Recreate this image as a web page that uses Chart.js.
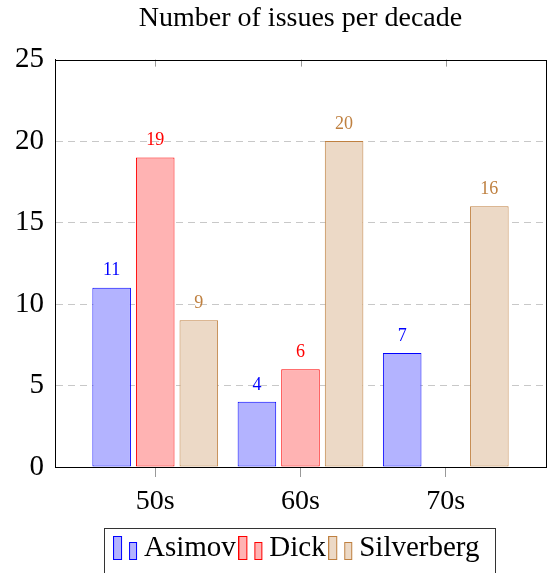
<!DOCTYPE html>
<html>
<head>
<meta charset="utf-8">
<script src="https://cdn.jsdelivr.net/npm/chart.js@4"></script>
<style>
  html, body { margin: 0; padding: 0; background: #fff; }
  #wrap { width: 549px; height: 573px; }
</style>
</head>
<body>
<div id="wrap"><canvas id="chart"></canvas></div>
<script>
// Data
const categories = ['50s', '60s', '70s'];
const asimov = [11, 4, 7];
const dick = [19, 6, null];
const silverberg = [9, 20, 16];
const yTicks = [0, 5, 10, 15, 20, 25];

const SERIF = '"Liberation Serif", "Times New Roman", serif';

// Legend icon: two small bars, as pgfplots draws them.
function barIcon(fill, stroke) {
  const c = document.createElement('canvas');
  c.width = 25; c.height = 25;
  const g = c.getContext('2d');
  g.fillStyle = fill;
  g.strokeStyle = stroke;
  g.lineWidth = 1;
  g.fillRect(0.5, 0.5, 8, 23);
  g.strokeRect(0.5, 0.5, 8, 23);
  g.fillRect(16.5, 6.5, 7, 17);
  g.strokeRect(16.5, 6.5, 7, 17);
  return c;
}

const series = [
  { label: 'Asimov', values: asimov, fill: '#b3b3ff', stroke: '#0000ff' },
  { label: 'Dick', values: dick, fill: '#ffb3b3', stroke: '#ff0000' },
  { label: 'Silverberg', values: silverberg, fill: '#ecd9c6', stroke: '#bf8040' },
];

// Frame, top tick marks, value labels and legend box.
const decorPlugin = {
  id: 'decor',
  afterDatasetsDraw(chart) {
    const ctx = chart.ctx;
    ctx.save();
    ctx.font = '18px ' + SERIF;
    ctx.textAlign = 'center';
    ctx.textBaseline = 'bottom';
    chart.data.datasets.forEach(function (ds, di) {
      const meta = chart.getDatasetMeta(di);
      meta.data.forEach(function (bar, i) {
        const v = ds.data[i].y;
        if (v === null || v === undefined) return;
        ctx.fillStyle = ds.borderColor;
        ctx.fillText(String(v), bar.x, bar.y - 8);
      });
    });
    ctx.restore();
  },
  afterDraw(chart) {
    const ctx = chart.ctx;
    const a = chart.chartArea;
    ctx.save();
    // top tick marks (inside)
    const xs = chart.scales.x;
    ctx.strokeStyle = '#999';
    ctx.lineWidth = 1;
    xs.ticks.forEach(function (t) {
      const px = Math.round(xs.getPixelForValue(t.value)) + 0.5;
      ctx.beginPath();
      ctx.moveTo(px, a.top);
      ctx.lineTo(px, a.top + 7);
      ctx.stroke();
    });
    // frame
    ctx.strokeStyle = '#000';
    ctx.strokeRect(Math.round(a.left) + 0.5, Math.round(a.top) + 0.5,
      Math.round(a.right - a.left), Math.round(a.bottom - a.top));
    // legend box
    const hb = chart.legend.legendHitBoxes;
    if (hb && hb.length) {
      const l = hb[0].left - 18;
      const r = hb[hb.length - 1].left + hb[hb.length - 1].width + 15;
      const t = chart.legend.top + 5;
      ctx.strokeStyle = '#333';
      ctx.strokeRect(Math.round(l) + 0.5, Math.round(t) + 0.5, Math.round(r - l), 60);
    }
    ctx.restore();
  }
};

new Chart(document.getElementById('chart'), {
  type: 'bar',
  data: {
    datasets: series.map(function (s) {
      return {
        label: s.label,
        data: categories.map(function (c, i) { return { x: i, y: s.values[i] }; }),
        backgroundColor: s.fill,
        borderColor: s.stroke,
        borderWidth: 1,
        borderSkipped: false,
        categoryPercentage: 0.9,
        barPercentage: 0.885,
        pointStyle: barIcon(s.fill, s.stroke),
      };
    }),
  },
  options: {
    responsive: true,
    maintainAspectRatio: false,
    animation: false,
    layout: { padding: { left: 0, right: 3, top: 0, bottom: 0 } },
    plugins: {
      title: {
        display: true,
        text: 'Number of issues per decade',
        fullSize: false,
        color: '#000',
        font: { family: SERIF, size: 28, weight: 'normal', lineHeight: 1.2 },
        padding: { top: 2, bottom: 24 },
      },
      legend: {
        position: 'bottom',
        fullSize: false,
        labels: {
          usePointStyle: true,
          pointStyleWidth: 8,
          color: '#000',
          padding: 11,
          font: { family: SERIF, size: 29 },
        },
      },
      tooltip: { enabled: false },
    },
    scales: {
      x: {
        type: 'linear',
        min: -0.69,
        max: 2.69,
        offset: false,
        afterBuildTicks: function (scale) {
          scale.ticks = categories.map(function (c, i) { return { value: i }; });
        },
        afterFit: function (scale) { scale.height = 56; },
        ticks: {
          color: '#000',
          padding: 8,
          maxRotation: 0,
          font: { family: SERIF, size: 28 },
          callback: function (v) { return categories[v]; },
        },
        grid: {
          offset: false,
          drawOnChartArea: false,
          drawTicks: true,
          tickLength: 10,
          color: '#999',
        },
        border: { display: true, color: '#000', width: 1 },
      },
      y: {
        min: 0,
        max: 25,
        afterBuildTicks: function (scale) {
          scale.ticks = yTicks.map(function (v) { return { value: v }; });
        },
        afterFit: function (scale) { scale.width = 55; },
        ticks: {
          color: '#000',
          padding: 11,
          font: { family: SERIF, size: 29 },
        },
        grid: {
          drawTicks: false,
          color: function (c) {
            return (c.tick && (c.tick.value === 0 || c.tick.value === 25)) ? 'rgba(0,0,0,0)' : '#c8c8c8';
          },
        },
        border: { display: true, color: '#000', width: 1, dash: [7, 5] },
      },
    },
  },
  plugins: [decorPlugin],
});
</script>
</body>
</html>
